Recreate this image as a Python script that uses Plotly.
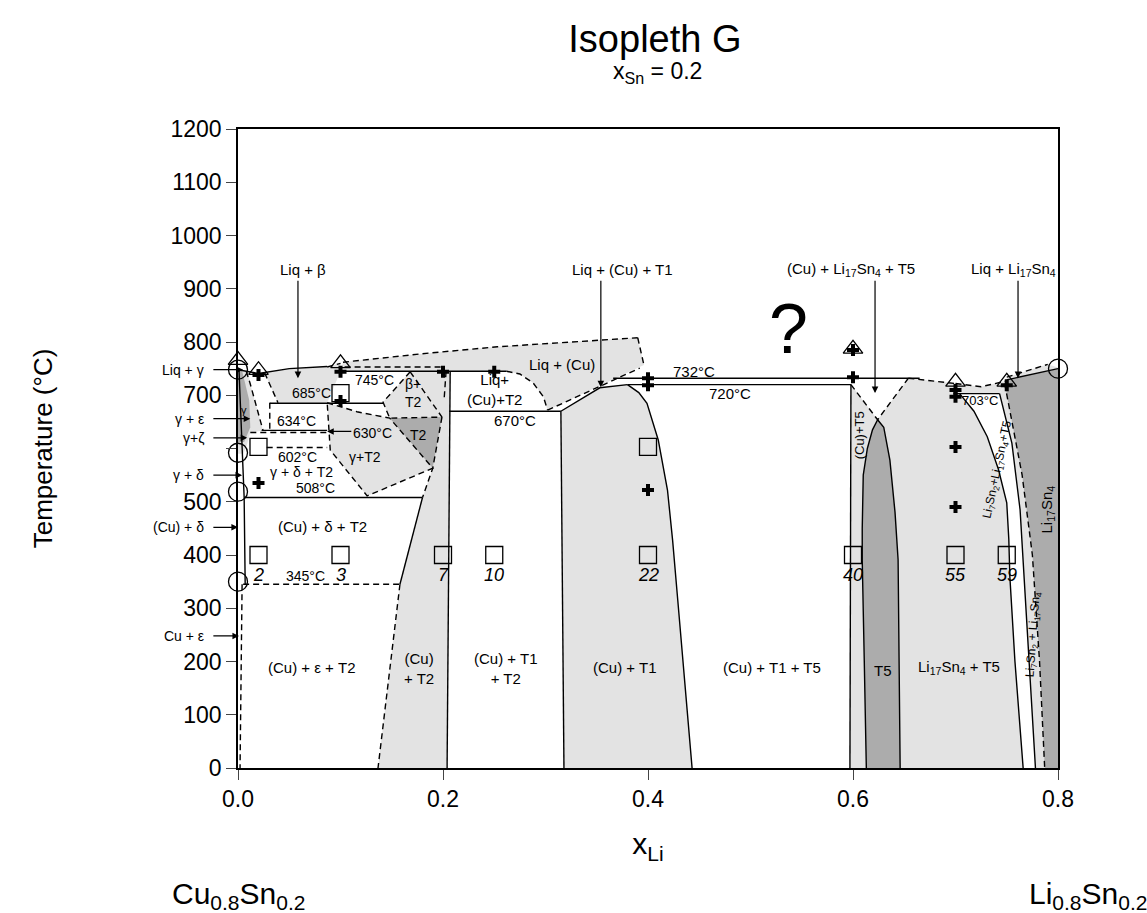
import plotly.graph_objects as go

# ---------------- data (x_Li, T in °C) ----------------
# shaded regions
liq_cu_region = [(0.100, 745), (0.1024, 762), (0.18, 778), (0.253, 791), (0.33, 801), (0.39, 808),
                 (0.396, 757), (0.302, 672), (0.298, 697), (0.288, 723), (0.275, 740), (0.262, 745)]
liq_beta_region = [(0.026, 742), (0.05, 750), (0.087, 754), (0.100, 760), (0.100, 745),
                   (0.087, 686), (0.039, 686)]
gamma_eps_region = [(0.0, 746), (0.010, 746), (0.0117, 723), (0.0244, 634), (0.012, 630),
                    (0.008, 602), (0.005, 590), (0.0, 590)]
gamma_dark = [(0.0, 746), (0.004, 746), (0.011, 690), (0.012, 640), (0.006, 612), (0.0, 612)]
gamma_t2_region = [(0.087, 686), (0.116, 669), (0.148, 657), (0.190, 563), (0.126, 511), (0.090, 597)]
beta_t2_region = [(0.168, 744), (0.199, 659), (0.148, 657), (0.1415, 687)]
t2_dark = [(0.148, 657), (0.199, 659), (0.190, 563)]
cu_t2_band = [(0.168, 745), (0.207, 745), (0.204, 0), (0.1366, 0), (0.158, 345), (0.180, 508),
              (0.190, 563), (0.199, 659)]
cu_t1_region = [(0.315, 670), (0.353, 714), (0.380, 720), (0.391, 705), (0.399, 685), (0.410, 616),
                (0.419, 522), (0.424, 428), (0.429, 316), (0.436, 160), (0.443, 0), (0.318, 0)]
t5_left = [(0.624, 654), (0.619, 635), (0.614, 600), (0.610, 550), (0.609, 450), (0.609, 390),
           (0.611, 200), (0.613, 0)]
t5_right = [(0.624, 654), (0.630, 640), (0.636, 578), (0.641, 480), (0.644, 391), (0.645, 200),
            (0.646, 0)]
curve_a = [(0.704, 703), (0.718, 670), (0.731, 622), (0.742, 560), (0.750, 498), (0.752, 430),
           (0.753, 360), (0.758, 200), (0.766, 0)]
curve_b = [(0.743, 703), (0.750, 650), (0.755, 610), (0.763, 485), (0.766, 390), (0.772, 200),
           (0.778, 0)]
curve_c = [(0.748, 722), (0.755, 650), (0.765, 550), (0.775, 400), (0.782, 200), (0.787, 0)]
li17_top = [(0.750, 729), (0.800, 750)]
right_top_region = [(0.654, 732), (0.68, 726), (0.70, 722), (0.725, 716), (0.75, 727), (0.75, 734),
                    (0.79, 758), (0.80, 752), (0.80, 750), (0.75, 729), (0.748, 722),
                    (0.743, 703), (0.704, 703)]

# solid boundary lines
solid_lines = [
    [(0.0, 748), (0.02, 741), (0.05, 750), (0.087, 754)],
    [(0.100, 745), (0.262, 745)],
    [(0.031, 685), (0.1415, 685)],
    [(0.023, 634), (0.087, 634)],
    [(0.006, 508), (0.180, 508)],
    [(0.001, 746), (0.004, 600), (0.006, 508), (0.007, 345)],
    [(0.180, 508), (0.158, 345)],
    [(0.207, 745), (0.204, 0)],
    [(0.206, 670), (0.315, 670)],
    [(0.315, 670), (0.318, 0)],
    [(0.315, 670), (0.353, 714), (0.380, 720)],
    cu_t1_region[2:11],
    [(0.366, 732), (0.665, 732)],
    [(0.380, 720), (0.598, 720)],
    [(0.598, 720), (0.597, 0)],
    t5_left, t5_right,
    [(0.698, 703), (0.743, 703)],
    curve_a, curve_b, li17_top,
]
# dashed boundary lines
dashed_lines = [
    [(0.087, 753), (0.100, 760)],
    [(0.1024, 762), (0.18, 778), (0.253, 791), (0.33, 801), (0.39, 808)],
    [(0.39, 808), (0.396, 757)],
    [(0.026, 742), (0.039, 686)],
    [(0.008, 745), (0.0117, 723), (0.0244, 634)],
    [(0.031, 686), (0.031, 634)],
    [(0.012, 630), (0.087, 630)],
    [(0.028, 602), (0.087, 602)],
    [(0.087, 686), (0.116, 669), (0.148, 657), (0.190, 563), (0.126, 511), (0.090, 597), (0.087, 686)],
    [(0.168, 744), (0.1415, 687), (0.148, 657)],
    [(0.168, 744), (0.199, 659), (0.148, 657)],
    [(0.199, 659), (0.190, 563), (0.180, 508)],
    [(0.203, 745), (0.201, 690)],
    [(0.158, 345), (0.1366, 0)],
    [(0.005, 345), (0.158, 345)],
    [(0.004, 345), (0.002, 0)],
    [(0.104, 753), (0.200, 753)],
    [(0.262, 745), (0.275, 740), (0.288, 723), (0.298, 697), (0.302, 672)],
    [(0.302, 672), (0.392, 751)],
    [(0.598, 720), (0.624, 654), (0.654, 732)],
    [(0.654, 732), (0.68, 726), (0.70, 722)],
    [(0.70, 722), (0.725, 716), (0.75, 727)],
    [(0.75, 734), (0.79, 758)],
    curve_c,
]

# experimental symbols
square_x = [0.02, 0.10, 0.20, 0.25, 0.40, 0.60, 0.70, 0.75, 0.02, 0.10, 0.40]
square_t = [400, 400, 400, 400, 400, 400, 400, 400, 603, 704, 603]
sample_x = [0.02, 0.10, 0.20, 0.25, 0.40, 0.60, 0.70, 0.75]
sample_labels = ["2", "3", "7", "10", "22", "40", "55", "59"]
plus_x = [0.02, 0.10, 0.10, 0.02, 0.20, 0.25, 0.40, 0.40, 0.40, 0.60, 0.60, 0.70, 0.70, 0.70, 0.70, 0.75]
plus_t = [738, 744, 689, 535, 744, 744, 732, 719, 522, 734, 785, 710, 697, 603, 490, 719]
tri_x = [0.0, 0.02, 0.10, 0.60, 0.70, 0.75]
tri_t = [766, 747, 760, 787, 725, 725]
circ_x = [0.0, 0.0, 0.0, 0.0, 0.8]
circ_t = [748, 592, 519, 350, 750]

x_ticks = [0.0, 0.2, 0.4, 0.6, 0.8]
y_ticks = list(range(0, 1201, 100))
# the 600 label is hidden behind the phase labels in the original
y_ticktext = ["" if v == 600 else str(v) for v in y_ticks]

LIGHT = "#e3e3e3"
DARK = "#acacac"
FONT = "Liberation Sans, Arial, sans-serif"
LBL = 15

fig = go.Figure()


def add_fill(pts, color):
    xs = [p[0] for p in pts] + [pts[0][0]]
    ys = [p[1] for p in pts] + [pts[0][1]]
    fig.add_trace(go.Scatter(x=xs, y=ys, fill="toself", fillcolor=color, mode="none",
                             hoverinfo="skip", showlegend=False))


add_fill(liq_cu_region, LIGHT)
add_fill(liq_beta_region, LIGHT)
add_fill(gamma_eps_region, LIGHT)
add_fill(gamma_dark, DARK)
add_fill(cu_t2_band, LIGHT)
add_fill(gamma_t2_region, LIGHT)
add_fill(beta_t2_region, LIGHT)
add_fill(t2_dark, DARK)
add_fill(cu_t1_region, LIGHT)
add_fill([(0.598, 720)] + t5_left + [(0.597, 0)], LIGHT)
add_fill(t5_left + t5_right[::-1], DARK)
add_fill(t5_right[::-1] + [(0.654, 732), (0.68, 726), (0.70, 722), (0.704, 703)] + curve_a, LIGHT)
add_fill(right_top_region, LIGHT)
add_fill(curve_b + curve_c[::-1], LIGHT)
add_fill(curve_c + [(0.8, 0), (0.8, 750), (0.75, 729)], DARK)

for ln in solid_lines:
    fig.add_trace(go.Scatter(x=[p[0] for p in ln], y=[p[1] for p in ln], mode="lines",
                             line=dict(color="black", width=1.4), hoverinfo="skip", showlegend=False))
for ln in dashed_lines:
    fig.add_trace(go.Scatter(x=[p[0] for p in ln], y=[p[1] for p in ln], mode="lines",
                             line=dict(color="black", width=1.4, dash="6px,4px"),
                             hoverinfo="skip", showlegend=False))

fig.add_trace(go.Scatter(x=square_x, y=square_t, mode="markers", cliponaxis=False,
                         marker=dict(symbol="square-open", size=17, color="black", line=dict(width=1.3)),
                         showlegend=False, hoverinfo="skip"))
fig.add_trace(go.Scatter(x=tri_x, y=tri_t, mode="markers", cliponaxis=False,
                         marker=dict(symbol="triangle-up-open", size=17, color="black", line=dict(width=1.3)),
                         showlegend=False, hoverinfo="skip"))
fig.add_trace(go.Scatter(x=circ_x, y=circ_t, mode="markers", cliponaxis=False,
                         marker=dict(symbol="circle-open", size=19, color="black", line=dict(width=1.3)),
                         showlegend=False, hoverinfo="skip"))
fig.add_trace(go.Scatter(x=plus_x, y=plus_t, mode="markers", cliponaxis=False,
                         marker=dict(symbol="cross", size=10, color="black", line=dict(width=0)),
                         showlegend=False, hoverinfo="skip"))

ann = []


def label(x, y, text, size=LBL, angle=0, italic=False, xref="x", xanchor="center"):
    t = f"<i>{text}</i>" if italic else text
    ann.append(dict(x=x, y=y, xref=xref, yref="y", text=t, showarrow=False, textangle=angle,
                    font=dict(size=size, color="black", family=FONT), xanchor=xanchor))


def arrow(x, y, ax, ay):
    ann.append(dict(x=x, y=y, ax=ax, ay=ay, xref="x", yref="y", axref="x", ayref="y", text="",
                    showarrow=True, arrowhead=2, arrowsize=1.1, arrowwidth=1.2, arrowcolor="black"))


# sample numbers
for sx, sl in zip(sample_x, sample_labels):
    label(sx, 363, sl, size=18, italic=True)

# region labels
label(0.063, 937, "Liq + β")
label(0.375, 937, "Liq + (Cu) + T1")
label(0.598, 937, "(Cu) + Li<sub>17</sub>Sn<sub>4</sub> + T5")
label(0.757, 937, "Liq + Li<sub>17</sub>Sn<sub>4</sub>")
label(0.537, 825, "?", 70)
label(0.316, 757, "Liq + (Cu)")
label(0.250, 710, "Liq+<br>(Cu)+T2")
label(0.270, 652, "670°C")
label(0.133, 729, "745°C", 14)
label(0.072, 704, "685°C", 14)
label(0.057, 651, "634°C", 14)
label(0.131, 630, "630°C", 14)
label(0.058, 584, "602°C", 14)
label(0.062, 556, "γ + δ + T2", 14)
label(0.076, 526, "508°C", 14)
label(0.171, 704, "β+<br>T2", 14)
label(0.176, 625, "T2", 14)
label(0.124, 584, "γ+T2", 14)
label(0.082, 453, "(Cu) + δ + T2")
label(0.066, 360, "345°C", 14)
label(0.006, 672, "γ", 11)
label(0.072, 188, "(Cu) + ε + T2")
label(0.177, 186, "(Cu)<br>+ T2")
label(0.261, 186, "(Cu) + T1<br>+ T2")
label(0.378, 188, "(Cu) + T1")
label(0.521, 188, "(Cu) + T1 + T5")
label(0.629, 184, "T5")
label(0.703, 188, "Li<sub>17</sub>Sn<sub>4</sub> + T5")
label(0.606, 625, "(Cu)+T5", 13, angle=-90)
label(0.741, 560, "Li<sub>7</sub>Sn<sub>2</sub>+Li<sub>17</sub>Sn<sub>4</sub>+T5", 12, angle=-78)
label(0.776, 250, "Li<sub>7</sub>Sn<sub>2</sub> + Li<sub>17</sub>Sn<sub>4</sub>", 12, angle=-86)
label(0.790, 485, "Li<sub>17</sub>Sn<sub>4</sub>", 15, angle=-90)
label(0.724, 690, "703°C", 13)
label(0.445, 745, "732°C")
label(0.480, 703, "720°C")

# arrows from top labels
arrow(0.0585, 732, 0.0585, 918)
arrow(0.354, 715, 0.354, 918)
arrow(0.6215, 704, 0.6215, 918)
arrow(0.761, 732, 0.761, 918)
arrow(0.087, 632, 0.112, 632)

# left-side labels with arrows
left_labels = ["Liq + γ", "γ + ε", "γ+ζ", "γ + δ", "(Cu) + δ", "Cu + ε"]
left_t = [748, 656, 620, 550, 452, 248]
left_head = [0.005, 0.012, 0.009, 0.004, 0.0, 0.001]
for lt, ly, lh in zip(left_labels, left_t, left_head):
    label(-0.0385, ly, lt, 14, xref="paper", xanchor="right")
    arrow(lh, ly, -0.0255, ly)

# Composition end labels and subtitle
ann.append(dict(x=0.0, y=-0.2, xref="paper", yref="paper", showarrow=False, xanchor="center",
                yanchor="middle", text="Cu<sub>0.8</sub>Sn<sub>0.2</sub>",
                font=dict(size=30, family=FONT, color="black")))
ann.append(dict(x=1.037, y=-0.2, xref="paper", yref="paper", showarrow=False, xanchor="center",
                yanchor="middle", text="Li<sub>0.8</sub>Sn<sub>0.2</sub>",
                font=dict(size=30, family=FONT, color="black")))
ann.append(dict(x=0.512, y=1.088, xref="paper", yref="paper", showarrow=False, xanchor="center",
                yanchor="middle", text="x<sub>Sn</sub> = 0.2",
                font=dict(size=23, family=FONT, color="black")))

fig.update_layout(
    width=1147, height=913,
    margin=dict(l=238, r=89, t=129, b=145),
    paper_bgcolor="white", plot_bgcolor="white",
    title=dict(text="Isopleth G", x=0.571, xanchor="center", y=0.958, yanchor="middle",
               font=dict(size=38, family=FONT, color="black")),
    annotations=ann,
    font=dict(family=FONT, color="black"),
)
fig.update_xaxes(range=[0, 0.8], tickvals=x_ticks, ticktext=[f"{v:.1f}" for v in x_ticks],
                 ticks="outside", ticklen=10, tickwidth=1.3, showline=True, linecolor="black",
                 linewidth=1.5, mirror=True, showgrid=False, zeroline=False,
                 tickfont=dict(size=23), title=dict(text="x<sub>Li</sub>", font=dict(size=30), standoff=22))
fig.update_yaxes(range=[0, 1200], tickvals=y_ticks, ticktext=y_ticktext, ticks="outside", ticklen=10,
                 tickwidth=1.3, showline=True, linecolor="black", linewidth=1.5, mirror=True,
                 showgrid=False, zeroline=False, tickfont=dict(size=23),
                 title=dict(text="Temperature (°C)", font=dict(size=26), standoff=110))

fig.write_html("out.html")
